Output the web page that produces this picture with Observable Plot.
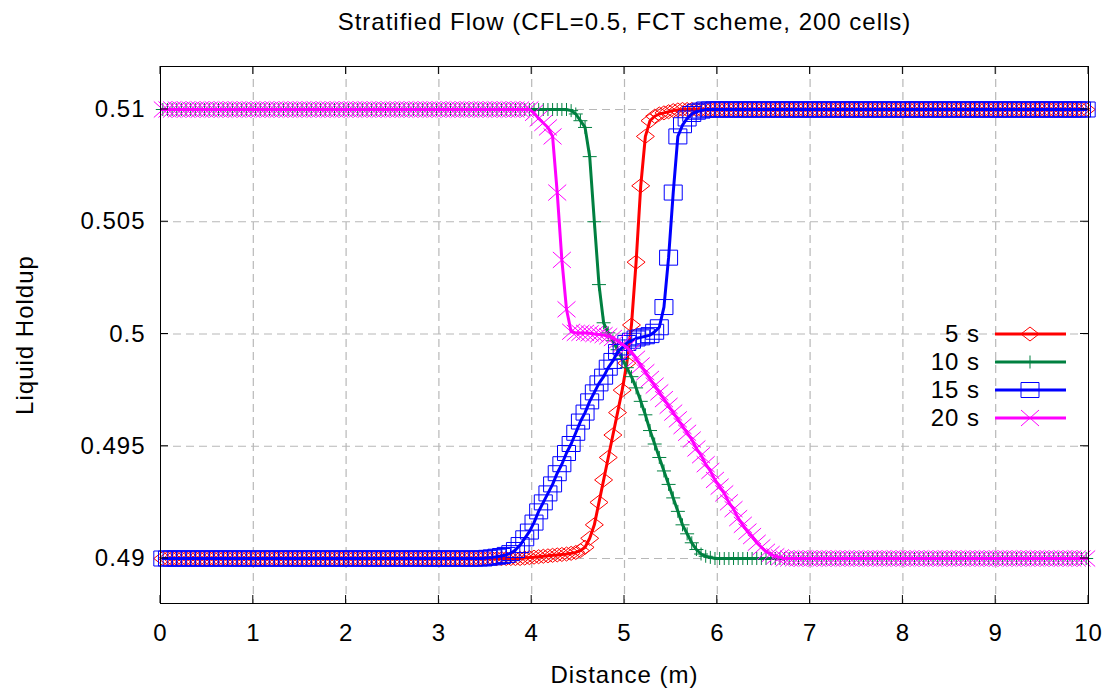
<!DOCTYPE html>
<html><head><meta charset="utf-8">
<script src="https://cdn.jsdelivr.net/npm/d3@7"></script>
<script src="https://cdn.jsdelivr.net/npm/@observablehq/plot@0.6"></script>
<style>
html,body{margin:0;padding:0;background:#fff;}
#chart svg{display:block;}
</style></head><body><div id="chart"></div>
<script>
// ---- data (cell centres, 200 cells) ----
const distance = [
0.025,0.075,0.125,0.175,0.225,0.275,0.325,0.375,0.425,0.475,
0.525,0.575,0.625,0.675,0.725,0.775,0.825,0.875,0.925,0.975,
1.025,1.075,1.125,1.175,1.225,1.275,1.325,1.375,1.425,1.475,
1.525,1.575,1.625,1.675,1.725,1.775,1.825,1.875,1.925,1.975,
2.025,2.075,2.125,2.175,2.225,2.275,2.325,2.375,2.425,2.475,
2.525,2.575,2.625,2.675,2.725,2.775,2.825,2.875,2.925,2.975,
3.025,3.075,3.125,3.175,3.225,3.275,3.325,3.375,3.425,3.475,
3.525,3.575,3.625,3.675,3.725,3.775,3.825,3.875,3.925,3.975,
4.025,4.075,4.125,4.175,4.225,4.275,4.325,4.375,4.425,4.475,
4.525,4.575,4.625,4.675,4.725,4.775,4.825,4.875,4.925,4.975,
5.025,5.075,5.125,5.175,5.225,5.275,5.325,5.375,5.425,5.475,
5.525,5.575,5.625,5.675,5.725,5.775,5.825,5.875,5.925,5.975,
6.025,6.075,6.125,6.175,6.225,6.275,6.325,6.375,6.425,6.475,
6.525,6.575,6.625,6.675,6.725,6.775,6.825,6.875,6.925,6.975,
7.025,7.075,7.125,7.175,7.225,7.275,7.325,7.375,7.425,7.475,
7.525,7.575,7.625,7.675,7.725,7.775,7.825,7.875,7.925,7.975,
8.025,8.075,8.125,8.175,8.225,8.275,8.325,8.375,8.425,8.475,
8.525,8.575,8.625,8.675,8.725,8.775,8.825,8.875,8.925,8.975,
9.025,9.075,9.125,9.175,9.225,9.275,9.325,9.375,9.425,9.475,
9.525,9.575,9.625,9.675,9.725,9.775,9.825,9.875,9.925,9.975
];

const holdup5s = [
0.49,0.49,0.49,0.49,0.49,0.49,0.49,0.49,0.49,0.49,
0.49,0.49,0.49,0.49,0.49,0.49,0.49,0.49,0.49,0.49,
0.49,0.49,0.49,0.49,0.49,0.49,0.49,0.49,0.49,0.49,
0.49,0.49,0.49,0.49,0.49,0.49,0.49,0.49,0.49,0.49,
0.49,0.49,0.49,0.49,0.49,0.49,0.49,0.49,0.49,0.49,
0.49,0.49,0.49,0.49,0.49,0.49,0.49,0.49,0.49,0.49,
0.49,0.49,0.49,0.49,0.49,0.49,0.49,0.49,0.49,0.49,
0.49,0.49,0.49,0.49,0.49,0.49,0.49,0.49,0.49002,0.49004,
0.49006,0.49008,0.4901,0.49012,0.49014,0.49016,0.49018,0.4902,0.49023,0.49027,
0.49035,0.4905,0.4909,0.4915,0.4925,0.4935,0.4945,0.4955,0.4965,0.4975,
0.4987,0.5004,0.5032,0.5066,0.5088,0.5095,0.5097,0.5098,0.50985,0.5099,
0.50995,0.50998,0.51,0.51,0.51,0.51,0.51,0.51,0.51,0.51,
0.51,0.51,0.51,0.51,0.51,0.51,0.51,0.51,0.51,0.51,
0.51,0.51,0.51,0.51,0.51,0.51,0.51,0.51,0.51,0.51,
0.51,0.51,0.51,0.51,0.51,0.51,0.51,0.51,0.51,0.51,
0.51,0.51,0.51,0.51,0.51,0.51,0.51,0.51,0.51,0.51,
0.51,0.51,0.51,0.51,0.51,0.51,0.51,0.51,0.51,0.51,
0.51,0.51,0.51,0.51,0.51,0.51,0.51,0.51,0.51,0.51,
0.51,0.51,0.51,0.51,0.51,0.51,0.51,0.51,0.51,0.51,
0.51,0.51,0.51,0.51,0.51,0.51,0.51,0.51,0.51,0.51
];

const holdup10s = [
0.51,0.51,0.51,0.51,0.51,0.51,0.51,0.51,0.51,0.51,
0.51,0.51,0.51,0.51,0.51,0.51,0.51,0.51,0.51,0.51,
0.51,0.51,0.51,0.51,0.51,0.51,0.51,0.51,0.51,0.51,
0.51,0.51,0.51,0.51,0.51,0.51,0.51,0.51,0.51,0.51,
0.51,0.51,0.51,0.51,0.51,0.51,0.51,0.51,0.51,0.51,
0.51,0.51,0.51,0.51,0.51,0.51,0.51,0.51,0.51,0.51,
0.51,0.51,0.51,0.51,0.51,0.51,0.51,0.51,0.51,0.51,
0.51,0.51,0.51,0.51,0.51,0.51,0.51,0.51,0.51,0.51,
0.51,0.51,0.51,0.51,0.51,0.51,0.51,0.51,0.50995,0.5098,
0.5095,0.5092,0.5079,0.5050,0.5022,0.5005,0.50005,0.4997,0.4993,0.4989,
0.4985,0.4981,0.4976,0.4970,0.4964,0.4957,0.4951,0.4945,0.4939,0.4933,
0.4927,0.4921,0.4915,0.4911,0.4907,0.4904,0.4902,0.4901,0.49005,0.49,
0.49,0.49,0.49,0.49,0.49,0.49,0.49,0.49,0.49,0.49,
0.49,0.49,0.49,0.49,0.49,0.49,0.49,0.49,0.49,0.49,
0.49,0.49,0.49,0.49,0.49,0.49,0.49,0.49,0.49,0.49,
0.49,0.49,0.49,0.49,0.49,0.49,0.49,0.49,0.49,0.49,
0.49,0.49,0.49,0.49,0.49,0.49,0.49,0.49,0.49,0.49,
0.49,0.49,0.49,0.49,0.49,0.49,0.49,0.49,0.49,0.49,
0.49,0.49,0.49,0.49,0.49,0.49,0.49,0.49,0.49,0.49,
0.49,0.49,0.49,0.49,0.49,0.49,0.49,0.49,0.49,0.49
];

const holdup15s = [
0.49,0.49,0.49,0.49,0.49,0.49,0.49,0.49,0.49,0.49,
0.49,0.49,0.49,0.49,0.49,0.49,0.49,0.49,0.49,0.49,
0.49,0.49,0.49,0.49,0.49,0.49,0.49,0.49,0.49,0.49,
0.49,0.49,0.49,0.49,0.49,0.49,0.49,0.49,0.49,0.49,
0.49,0.49,0.49,0.49,0.49,0.49,0.49,0.49,0.49,0.49,
0.49,0.49,0.49,0.49,0.49,0.49,0.49,0.49,0.49,0.49,
0.49,0.49,0.49,0.49,0.49,0.49,0.49,0.49,0.49,0.49,
0.49003,0.49005,0.49008,0.49011,0.49016,0.49024,0.49038,0.4906,0.4909,0.4912,
0.4916,0.4921,0.4925,0.4929,0.4933,0.4938,0.4942,0.4947,0.4951,0.4956,
0.4961,0.4965,0.4970,0.4974,0.4978,0.4981,0.4985,0.4988,0.4992,0.4994,
0.4996,0.4997,0.4998,0.49985,0.4999,0.49995,0.5001,0.5003,0.5012,0.5034,
0.5063,0.5088,0.5093,0.5096,0.5098,0.5099,0.50995,0.51,0.51,0.51,
0.51,0.51,0.51,0.51,0.51,0.51,0.51,0.51,0.51,0.51,
0.51,0.51,0.51,0.51,0.51,0.51,0.51,0.51,0.51,0.51,
0.51,0.51,0.51,0.51,0.51,0.51,0.51,0.51,0.51,0.51,
0.51,0.51,0.51,0.51,0.51,0.51,0.51,0.51,0.51,0.51,
0.51,0.51,0.51,0.51,0.51,0.51,0.51,0.51,0.51,0.51,
0.51,0.51,0.51,0.51,0.51,0.51,0.51,0.51,0.51,0.51,
0.51,0.51,0.51,0.51,0.51,0.51,0.51,0.51,0.51,0.51,
0.51,0.51,0.51,0.51,0.51,0.51,0.51,0.51,0.51,0.51
];

const holdup20s = [
0.51,0.51,0.51,0.51,0.51,0.51,0.51,0.51,0.51,0.51,
0.51,0.51,0.51,0.51,0.51,0.51,0.51,0.51,0.51,0.51,
0.51,0.51,0.51,0.51,0.51,0.51,0.51,0.51,0.51,0.51,
0.51,0.51,0.51,0.51,0.51,0.51,0.51,0.51,0.51,0.51,
0.51,0.51,0.51,0.51,0.51,0.51,0.51,0.51,0.51,0.51,
0.51,0.51,0.51,0.51,0.51,0.51,0.51,0.51,0.51,0.51,
0.51,0.51,0.51,0.51,0.51,0.51,0.51,0.51,0.51,0.51,
0.51,0.51,0.51,0.51,0.51,0.51,0.51,0.51,0.51,0.51,
0.50985,0.5096,0.5094,0.5092,0.5088,0.5063,0.5033,0.5011,0.5001,0.50005,
0.50005,0.50005,0.50003,0.5,0.49998,0.49995,0.4999,0.49982,0.4997,0.49955,
0.4994,0.4992,0.4989,0.4986,0.4983,0.498,0.4977,0.4974,0.4971,0.4968,
0.4965,0.4962,0.4959,0.4956,0.4953,0.4949,0.4946,0.4942,0.4939,0.4935,
0.4932,0.4929,0.4925,0.4922,0.4918,0.4915,0.4912,0.491,0.4907,0.4905,
0.4903,0.4902,0.4901,0.49005,0.49,0.49,0.49,0.49,0.49,0.49,
0.49,0.49,0.49,0.49,0.49,0.49,0.49,0.49,0.49,0.49,
0.49,0.49,0.49,0.49,0.49,0.49,0.49,0.49,0.49,0.49,
0.49,0.49,0.49,0.49,0.49,0.49,0.49,0.49,0.49,0.49,
0.49,0.49,0.49,0.49,0.49,0.49,0.49,0.49,0.49,0.49,
0.49,0.49,0.49,0.49,0.49,0.49,0.49,0.49,0.49,0.49,
0.49,0.49,0.49,0.49,0.49,0.49,0.49,0.49,0.49,0.49
];

const seriesLabels = ["5 s", "10 s", "15 s", "20 s"];
const seriesColors = ["#ff0000", "#008040", "#0000ff", "#ff00ff"];
const xTicks = [0, 1, 2, 3, 4, 5, 6, 7, 8, 9, 10];
const yTicks = [0.49, 0.495, 0.5, 0.505, 0.51];
const yTickLabels = ["0.49", "0.495", "0.5", "0.505", "0.51"];
const titleText = "Stratified Flow (CFL=0.5, FCT scheme, 200 cells)";
const xLabelText = "Distance (m)";
const yLabelText = "Liquid Holdup";

// ---- marker shapes (gnuplot-like open diamond, plus, open square, cross) ----
const markerShapes = [
  {draw(c) { c.moveTo(-9, 0); c.lineTo(0, -7); c.lineTo(9, 0); c.lineTo(0, 7); c.closePath(); }},
  {draw(c) { c.moveTo(-7, 0); c.lineTo(7, 0); c.moveTo(0, -6.5); c.lineTo(0, 6.5); }},
  {draw(c) { c.moveTo(-9, -7.5); c.lineTo(9, -7.5); c.lineTo(9, 7.5); c.lineTo(-9, 7.5); c.closePath(); }},
  {draw(c) { c.moveTo(-9, -8); c.lineTo(9, 8); c.moveTo(9, -8); c.lineTo(-9, 8); }}
];

const seriesValues = [holdup5s, holdup10s, holdup15s, holdup20s];
const tables = seriesValues.map((vals, s) => vals.map((v, i) => ({x: distance[i], v, s})));

// inward ticks on all four sides (gnuplot style, mirrored)
function borderTicks(index, scales, values, dims) {
  const g = d3.create("svg:g").attr("stroke", "#000").attr("stroke-width", 1).attr("fill", "none");
  const L = dims.marginLeft, R = dims.width - dims.marginRight;
  const T = dims.marginTop, B = dims.height - dims.marginBottom;
  const len = 8;
  for (const t of xTicks) {
    const px = scales.x(t);
    g.append("line").attr("x1", px).attr("x2", px).attr("y1", B).attr("y2", B - len);
    g.append("line").attr("x1", px).attr("x2", px).attr("y1", T).attr("y2", T + len);
  }
  for (const t of yTicks) {
    const py = scales.y(t);
    g.append("line").attr("x1", L).attr("x2", L + len).attr("y1", py).attr("y2", py);
    g.append("line").attr("x1", R).attr("x2", R - len).attr("y1", py).attr("y2", py);
  }
  return g.node();
}

// key inside the plot (right side)
function key(index, scales, values, dims) {
  const g = d3.create("svg:g");
  const R = dims.width - dims.marginRight;
  const T = dims.marginTop;
  seriesLabels.forEach((label, i) => {
    const y = T + 268 + i * 28;
    g.append("text")
      .attr("x", R - 108).attr("y", y).attr("dy", "0.35em")
      .attr("text-anchor", "end").attr("fill", "#000")
      .text(label);
    g.append("line")
      .attr("x1", R - 93).attr("x2", R - 22).attr("y1", y).attr("y2", y)
      .attr("stroke", seriesColors[i]).attr("stroke-width", 3);
    const p = d3.path();
    markerShapes[i].draw(p);
    g.append("path")
      .attr("transform", `translate(${R - 58},${y})`)
      .attr("d", p.toString())
      .attr("fill", "none").attr("stroke", seriesColors[i]).attr("stroke-width", 1);
  });
  return g.node();
}

const seriesMarks = [];
tables.forEach((tbl, s) => {
  seriesMarks.push(Plot.line(tbl, {x: "x", y: "v", stroke: seriesColors[s], strokeWidth: 3, strokeLinejoin: "round"}));
  seriesMarks.push(Plot.dot(tbl, {x: "x", y: "v", symbol: markerShapes[s], r: 4, fill: "none", stroke: seriesColors[s], strokeWidth: 1}));
});

const chart = Plot.plot({
  width: 1112,
  height: 690,
  marginLeft: 160,
  marginRight: 24,
  marginTop: 66,
  marginBottom: 87,
  style: {fontFamily: "'Liberation Sans', Arial, Helvetica, sans-serif", fontSize: "24px", letterSpacing: "1px", color: "#000", background: "#fff"},
  x: {domain: [0, 10]},
  y: {domain: [0.487996, 0.511915]},
  marks: [
    Plot.gridX(xTicks.slice(1, -1), {stroke: "#b8b8b8", strokeOpacity: 1, strokeWidth: 1.2, strokeDasharray: "8,5"}),
    Plot.gridY(yTicks, {stroke: "#b8b8b8", strokeOpacity: 1, strokeWidth: 1.2, strokeDasharray: "8,5"}),
    ...seriesMarks,
    Plot.frame({stroke: "#000", strokeWidth: 1}),
    borderTicks,
    Plot.axisX(xTicks, {tickSize: 0, tickPadding: 20, label: null, fill: "#000"}),
    Plot.axisY(yTicks, {tickSize: 0, tickPadding: 15, label: null, fill: "#000", tickFormat: d => yTickLabels[yTicks.indexOf(d)]}),
    Plot.text([titleText], {frameAnchor: "top", dy: -44, lineAnchor: "middle", textAnchor: "middle", text: d => d, fill: "#000"}),
    Plot.text([xLabelText], {frameAnchor: "bottom", dy: 72, lineAnchor: "middle", textAnchor: "middle", text: d => d, fill: "#000"}),
    Plot.text([yLabelText], {frameAnchor: "left", dx: -135, rotate: -90, lineAnchor: "middle", textAnchor: "middle", text: d => d, fill: "#000"}),
    key
  ]
});
document.getElementById("chart").appendChild(chart);
</script>
</body></html>
